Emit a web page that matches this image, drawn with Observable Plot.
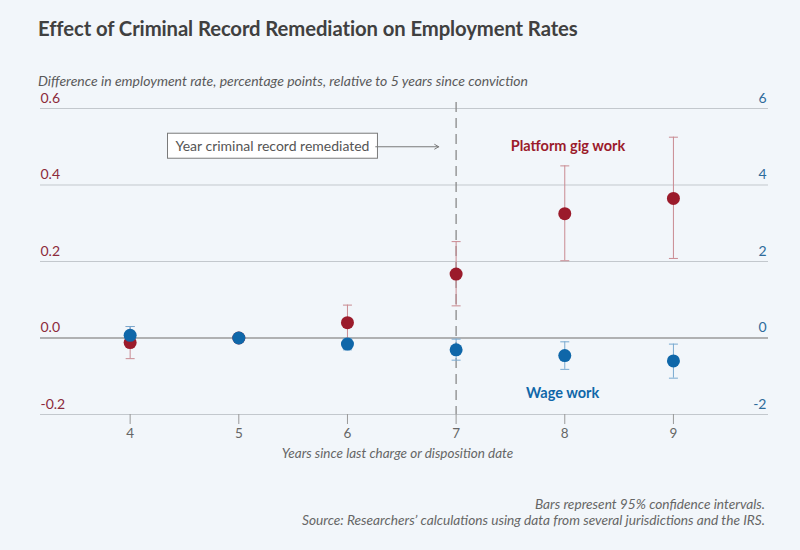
<!DOCTYPE html>
<html>
<head>
<meta charset="utf-8">
<script src="https://cdn.jsdelivr.net/npm/d3@7"></script>
<script src="https://cdn.jsdelivr.net/npm/@observablehq/plot@0.6"></script>
<style>
  html, body { margin: 0; padding: 0; background: #f2f6fa; }
  body { width: 800px; height: 550px; position: relative; overflow: hidden; font-family: Lato, "Open Sans", sans-serif; }
  .title { position: absolute; left: 38px; top: 16px; font-size: 20.3px; font-weight: 700; color: #404040; letter-spacing: -0.1px; }
  .subtitle { position: absolute; left: 38px; top: 72px; font-size: 14px; font-style: italic; color: #5a5a5a; }
  .caption { position: absolute; right: 35px; top: 496px; font-size: 13.7px; font-style: italic; color: #666; text-align: right; line-height: 16px; }
  #chart { position: absolute; left: 0; top: 90px; }
</style>
</head>
<body>
<div class="title">Effect of Criminal Record Remediation on Employment Rates</div>
<div class="subtitle">Difference in employment rate, percentage points, relative to 5 years since conviction</div>
<div id="chart"></div>
<div class="caption">Bars represent 95% confidence intervals.<br>Source: Researchers’ calculations using data from several jurisdictions and the IRS.</div>
<script>
// ---- data ----
const years = [4, 5, 6, 7, 8, 9];
// Platform gig work (left axis)
const gigEstimate = [-0.012, 0, 0.040, 0.167, 0.325, 0.365];
const gigLow      = [-0.054, null, -0.006, 0.084, 0.202, 0.208];
const gigHigh     = [0.030, null, 0.086, 0.252, 0.450, 0.525];
// Wage work (right axis)
const wageEstimate = [0.07, 0, -0.16, -0.31, -0.46, -0.60];
const wageLow      = [-0.16, null, -0.31, -0.58, -0.82, -1.05];
const wageHigh     = [0.30, null, -0.01, -0.03, -0.10, -0.16];
// axes
const leftTicks = [-0.2, 0.0, 0.2, 0.4, 0.6];
const leftTickLabels = ["-0.2", "0.0", "0.2", "0.4", "0.6"];
const rightTicks = [-2, 0, 2, 4, 6];
const xTicks = [4, 5, 6, 7, 8, 9];
const remediationYear = 7;
// annotations (data units)
const annotationText = "Year criminal record remediated";
const annotationPos = {x: 5.31, y: 0.5, arrowFrom: 6.26, arrowTo: 6.84};
const seriesLabels = [
  {text: "Platform gig work", x: 8.03, y: 0.5, series: "gig"},
  {text: "Wage work", x: 7.98, y: -1.45, series: "wage"}
];

// ---- build ----
const ratio = rightTicks[rightTicks.length - 1] / leftTicks[leftTicks.length - 1];
const gig = years.map((x, i) => ({x, y: gigEstimate[i], lo: gigLow[i], hi: gigHigh[i]}));
const wage = years.map((x, i) => ({x, y: wageEstimate[i] / ratio,
  lo: wageLow[i] == null ? null : wageLow[i] / ratio,
  hi: wageHigh[i] == null ? null : wageHigh[i] / ratio}));
const red = "#9b1b2b", blue = "#0f67a9";
const redLight = "#c98a91", blueLight = "#78a9d0";
const cap = {draw(ctx, size) { const w = Math.sqrt(size / Math.PI); ctx.moveTo(-w, 0); ctx.lineTo(w, 0); }};
const ci = (d) => d.filter(r => r.lo != null);
const labelRows = seriesLabels.map(l => ({...l, y: l.series === "wage" ? l.y / ratio : l.y}));

const chart = Plot.plot({
  width: 800,
  height: 380,
  marginTop: 18,
  marginBottom: 56,
  marginLeft: 40,
  marginRight: 32,
  style: {background: "transparent", fontFamily: "Lato, 'Open Sans', sans-serif"},
  x: {domain: [3.175, 9.875], axis: null},
  y: {domain: [leftTicks[0], leftTicks[leftTicks.length - 1]], axis: null},
  marks: [
    Plot.ruleY(leftTicks.filter(t => t !== 0), {stroke: "#c3c8cd", strokeWidth: 1}),
    Plot.ruleY([0], {stroke: "#9a9a9a", strokeWidth: 1.6}),
    Plot.axisX({ticks: xTicks, tickFormat: d => String(d), tickSize: 10, tickPadding: 4, stroke: "#999", fill: "#666", fontSize: 13.5, label: null}),
    Plot.text(["Years since last charge or disposition date"], {frameAnchor: "bottom", dy: 43, dx: -7, fontSize: 13.5, fontStyle: "italic", fill: "#666"}),
    Plot.text(leftTicks, {y: d => d, text: (d, i) => leftTickLabels[i], frameAnchor: "left", textAnchor: "start", dy: -10, fontSize: 14, fill: "#8c2a3a"}),
    Plot.text(rightTicks, {y: d => d / ratio, text: d => String(d), frameAnchor: "right", textAnchor: "end", dx: -2, dy: -10, fontSize: 14, fill: "#2e6b9b"}),
    Plot.ruleX([remediationYear], {stroke: "#8a8a8a", strokeWidth: 1.3, strokeDasharray: "10,6", insetTop: -6}),
    // error bars
    Plot.ruleX(ci(gig), {x: "x", y1: "lo", y2: "hi", stroke: redLight, strokeWidth: 1}),
    Plot.dot(ci(gig), {x: "x", y: "lo", symbol: cap, r: 4.5, stroke: redLight, fill: "none", strokeWidth: 1}),
    Plot.dot(ci(gig), {x: "x", y: "hi", symbol: cap, r: 4.5, stroke: redLight, fill: "none", strokeWidth: 1}),
    Plot.ruleX(ci(wage), {x: "x", y1: "lo", y2: "hi", stroke: blueLight, strokeWidth: 1}),
    Plot.dot(ci(wage), {x: "x", y: "lo", symbol: cap, r: 4.5, stroke: blueLight, fill: "none", strokeWidth: 1}),
    Plot.dot(ci(wage), {x: "x", y: "hi", symbol: cap, r: 4.5, stroke: blueLight, fill: "none", strokeWidth: 1}),
    // points
    Plot.dot(gig, {x: "x", y: "y", r: 6.5, fill: red}),
    Plot.dot(wage, {x: "x", y: "y", r: 6.5, fill: blue}),
    // labels
    Plot.text(labelRows, {x: "x", y: "y", text: "text", fill: d => d.series === "gig" ? red : blue, fontWeight: 700, fontSize: 14.5}),
    Plot.text([annotationPos], {x: "x", y: "y", text: () => annotationText, fontSize: 14, fill: "#555", className: "anno"}),
    Plot.arrow([annotationPos], {x1: "arrowFrom", x2: "arrowTo", y1: "y", y2: "y", bend: 0, stroke: "#7a7a7a", strokeWidth: 1, headLength: 7})
  ]
});
document.getElementById("chart").appendChild(chart);
// box around annotation text
const g = chart.querySelector("g.anno");
const t = g && g.querySelector("text");
if (t) {
  const b = t.getBBox();
  const r = document.createElementNS("http://www.w3.org/2000/svg", "rect");
  r.setAttribute("x", b.x - 8); r.setAttribute("y", b.y - 4);
  r.setAttribute("width", b.width + 16); r.setAttribute("height", b.height + 8);
  r.setAttribute("fill", "#ffffff"); r.setAttribute("stroke", "#7a7a7a"); r.setAttribute("stroke-width", 1);
  const tr = t.getAttribute("transform");
  if (tr) r.setAttribute("transform", tr);
  t.parentNode.insertBefore(r, t);
}
</script>
</body>
</html>
